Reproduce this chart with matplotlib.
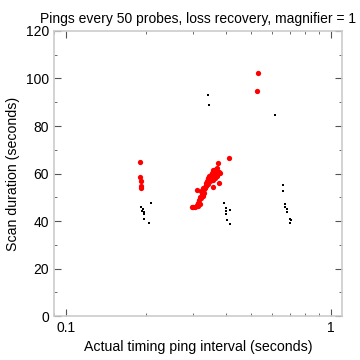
import matplotlib
matplotlib.use('Agg')
import matplotlib.pyplot as plt
from matplotlib.ticker import LogLocator, MultipleLocator, FixedLocator, NullFormatter

plt.rcParams['font.family'] = ['Liberation Sans', 'DejaVu Sans']

# red: runs with loss recovery pings
red_x = [0.190, 0.190, 0.191, 0.192, 0.191,
         0.412, 0.374, 0.368, 0.360, 0.379, 0.381, 0.355, 0.352, 0.348, 0.344,
         0.341, 0.360, 0.340, 0.377, 0.338, 0.360, 0.335, 0.332, 0.311, 0.328,
         0.325, 0.332, 0.320, 0.328, 0.318, 0.316, 0.311, 0.302, 0.298, 0.307,
         0.316, 0.320, 0.345, 0.350, 0.346, 0.343, 0.338, 0.336, 0.334, 0.330,
         0.326, 0.322, 0.330, 0.342, 0.350, 0.355, 0.362, 0.366, 0.370, 0.364,
         0.372, 0.322,
         0.532, 0.526]
red_y = [65.0, 58.4, 56.8, 54.7, 53.8,
         66.6, 64.6, 61.9, 61.5, 60.8, 60.1, 60.3, 59.4, 58.7, 58.0,
         57.0, 57.3, 55.9, 56.1, 55.2, 54.2, 54.4, 53.3, 53.1, 52.8,
         51.7, 51.7, 50.2, 50.5, 48.8, 47.5, 46.9, 46.0, 46.0, 45.8,
         46.5, 47.0, 59.0, 58.2, 57.5, 56.5, 56.0, 54.8, 53.8, 52.5,
         51.0, 49.5, 54.0, 55.5, 57.0, 58.5, 59.5, 60.5, 62.5, 58.0,
         59.0, 52.6,
         102.4, 94.9]

# black: other runs
blk_x = [0.209, 0.192, 0.195, 0.194, 0.197, 0.196, 0.197, 0.206,
         0.396, 0.402, 0.416, 0.403, 0.402, 0.405, 0.414,
         0.613, 0.659, 0.660, 0.669, 0.670, 0.681, 0.681, 0.700, 0.706, 0.700,
         0.343, 0.346]
blk_y = [47.7, 45.8, 44.9, 44.1, 43.8, 43.0, 40.8, 39.3,
         47.6, 45.6, 44.8, 44.2, 43.0, 40.4, 38.6,
         84.6, 55.0, 52.5, 47.2, 46.0, 45.1, 43.9, 40.8, 40.4, 39.3,
         93.0, 89.0]

fig = plt.figure(figsize=(3.6, 3.6), dpi=100)
ax = fig.add_axes([0.15, 0.122, 0.8, 0.792])

ax.plot(blk_x, blk_y, 's', color='black', markersize=1.6, markeredgewidth=0)
ax.plot(red_x, red_y, 'o', color='#ff0000', markersize=3.8, markeredgewidth=0)

ax.set_xscale('log')
ax.set_xlim(0.09, 1.1)
ax.set_ylim(0, 120)
ax.xaxis.set_major_locator(FixedLocator([0.1, 1]))
ax.set_xticklabels(['0.1', '1'])
ax.xaxis.set_minor_locator(LogLocator(base=10, subs=range(2, 10)))
ax.xaxis.set_minor_formatter(NullFormatter())
ax.yaxis.set_major_locator(MultipleLocator(20))
ax.yaxis.set_minor_locator(MultipleLocator(10))

ax.tick_params(which='both', direction='in', top=True, right=True,
               colors='#555555', labelcolor='black', labelsize=10)
ax.tick_params(which='major', length=5, width=0.8)
ax.tick_params(which='minor', length=2.5, width=0.6)
for s in ax.spines.values():
    s.set_color('#cccccc')
    s.set_linewidth(1.2)

ax.set_xlabel('Actual timing ping interval (seconds)', fontsize=10.2)
ax.set_ylabel('Scan duration (seconds)', fontsize=10.2)
ax.set_title('Pings every 50 probes, loss recovery, magnifier = 1', fontsize=10)

fig.savefig('out.png', dpi=100)
